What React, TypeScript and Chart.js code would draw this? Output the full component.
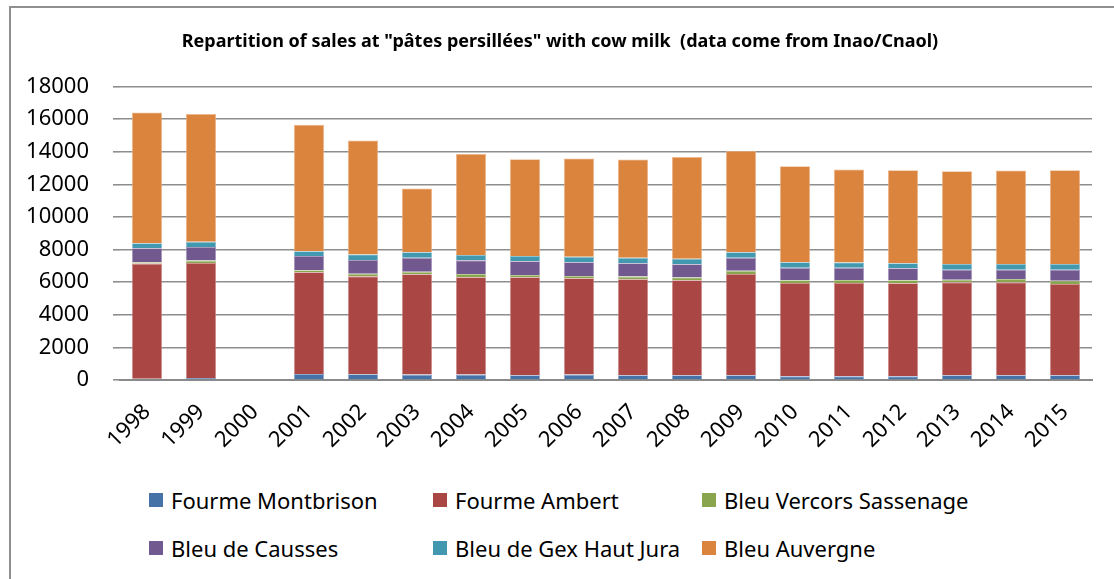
import React, { useEffect, useRef } from "react";
import { Chart, registerables } from "chart.js";

Chart.register(...registerables);

const years = ["1998", "1999", "2000", "2001", "2002", "2003", "2004", "2005", "2006", "2007", "2008", "2009", "2010", "2011", "2012", "2013", "2014", "2015"];

const fourmeMontbrison = [80, 120, null, 370, 350, 330, 330, 290, 330, 290, 290, 290, 225, 225, 225, 290, 290, 290];
const fourmeAmbert = [7060, 7060, null, 6240, 6010, 6160, 5970, 6010, 5910, 5890, 5830, 6220, 5730, 5730, 5710, 5700, 5700, 5600];
const bleuVercors = [80, 145, null, 125, 165, 145, 200, 145, 145, 165, 165, 185, 165, 185, 185, 165, 205, 205];
const bleuCausses = [860, 840, null, 880, 840, 860, 840, 840, 840, 820, 820, 800, 760, 740, 740, 615, 575, 675];
const bleuGex = [310, 310, null, 290, 330, 350, 330, 330, 330, 330, 330, 350, 350, 330, 310, 350, 350, 350];
const bleuAuvergne = [8025, 7840, null, 7760, 7000, 3900, 6200, 5930, 6035, 6035, 6240, 6200, 5890, 5710, 5705, 5690, 5730, 5750];

const seriesNames = ["Fourme Montbrison", "Fourme Ambert", "Bleu Vercors Sassenage", "Bleu de Causses", "Bleu de Gex Haut Jura", "Bleu Auvergne"];
const seriesColors = ["#4572A7", "#AA4643", "#89A54E", "#71588F", "#4198AF", "#DB843D"];
const seriesBorders = ["#8fa9cc", "#cf8f8d", "#b9cc93", "#a897bd", "#8cc3d2", "#eeb88f"];
const seriesValues = [fourmeMontbrison, fourmeAmbert, bleuVercors, bleuCausses, bleuGex, bleuAuvergne];

const yTicks = [0, 2000, 4000, 6000, 8000, 10000, 12000, 14000, 16000, 18000];

const titleText = 'Repartition of sales at "pâtes persillées" with cow milk  (data come from Inao/Cnaol)';
const FONT = "'Noto Sans', 'DejaVu Sans', sans-serif";

export default function App() {
  const canvasRef = useRef<HTMLCanvasElement | null>(null);

  useEffect(() => {
    const canvas = canvasRef.current;
    if (!canvas) return;
    const chart = new Chart(canvas, {
      type: "bar",
      data: {
        labels: years,
        datasets: seriesNames.map((name, i) => ({
          label: name,
          data: seriesValues[i],
          backgroundColor: seriesColors[i],
          borderColor: seriesBorders[i],
          borderWidth: 0.8,
          barPercentage: 0.56,
          categoryPercentage: 1,
        })),
      },
      options: {
        animation: false,
        responsive: false,
        maintainAspectRatio: false,
        layout: { padding: { left: 28, right: 22, top: 0, bottom: 0 } },
        plugins: {
          legend: { display: false },
          tooltip: { enabled: false },
          title: {
            display: true,
            text: titleText,
            color: "#000",
            font: { family: FONT, size: 18, weight: "bold" },
            padding: { top: 31, bottom: 34 },
          },
        },
        scales: {
          x: {
            stacked: true,
            grid: { display: false, drawTicks: false },
            border: { display: true, color: "#8a8a8a", width: 2 },
            ticks: {
              color: "#000",
              font: { family: FONT, size: 22 },
              maxRotation: 45,
              minRotation: 45,
              padding: 19,
              autoSkip: false,
            },
            afterFit: (scale: any) => {
              scale.height = 90;
            },
          },
          y: {
            stacked: true,
            min: 0,
            max: 18000,
            afterBuildTicks: (scale: any) => {
              scale.ticks = yTicks.map((v) => ({ value: v }));
            },
            grid: { color: "#8e8e8e", lineWidth: 1.6, drawTicks: true, tickLength: 7 },
            border: { display: false },
            ticks: {
              color: "#000",
              font: { family: FONT, size: 22 },
              padding: 24,
              callback: (v: any) => String(v),
            },
            afterFit: (scale: any) => {
              scale.width = 92;
            },
          },
        },
      },
    });
    return () => chart.destroy();
  }, []);

  const legendCols = [149, 433, 702];
  const legendRows = [500, 548];

  return (
    <div
      style={{
        position: "absolute",
        left: 0,
        top: 0,
        width: 1114,
        height: 579,
        overflow: "hidden",
        background: "#fff",
        fontFamily: FONT,
      }}
    >
      <div
        style={{
          position: "absolute",
          left: 9,
          top: 6,
          width: 1200,
          height: 700,
          border: "2px solid #8f8f8f",
          boxSizing: "border-box",
        }}
      />
      <canvas
        ref={canvasRef}
        width={1114}
        height={470}
        style={{ position: "absolute", left: 0, top: 0, width: 1114, height: 470 }}
      />
      {seriesNames.map((name, i) => {
        const col = i % 3;
        const row = Math.floor(i / 3);
        return (
          <div
            key={name}
            style={{
              position: "absolute",
              left: legendCols[col],
              top: legendRows[row] - 16,
              height: 32,
              display: "flex",
              alignItems: "center",
              whiteSpace: "nowrap",
              fontSize: 22,
              color: "#000",
            }}
          >
            <span
              style={{
                display: "inline-block",
                width: 14,
                height: 14,
                background: seriesColors[i],
                marginRight: 8,
              }}
            />
            <span>{name}</span>
          </div>
        );
      })}
    </div>
  );
}
